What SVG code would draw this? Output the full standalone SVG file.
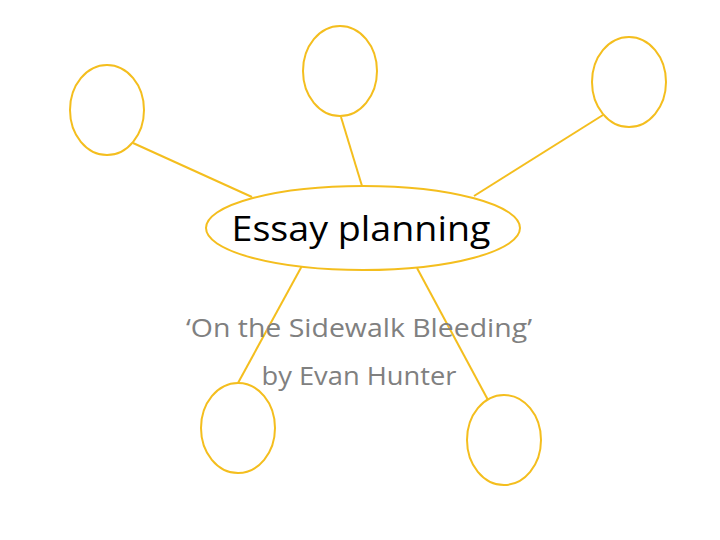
<svg xmlns="http://www.w3.org/2000/svg" width="720" height="540" viewBox="0 0 720 540">
<style>
.n{fill:#fff;stroke:#F4BE1E;stroke-width:2}
.c line{stroke:#F4BE1E;stroke-width:2}
.t{font-family:"Open Sans","Liberation Sans",sans-serif;text-anchor:middle}
</style>
<rect width="720" height="540" fill="#fff"/>
<g id="connectors" class="c">
<line x1="133" y1="143" x2="252" y2="197"/>
<line x1="341" y1="117" x2="362" y2="186"/>
<line x1="603" y1="115" x2="474" y2="196"/>
<line x1="303" y1="264" x2="238" y2="383"/>
<line x1="417" y1="268" x2="488" y2="400"/>
</g>
<g id="center"><ellipse class="n" cx="363" cy="228" rx="157" ry="42"/>
<text class="t" x="361" y="241" font-size="35" fill="#000" textLength="259" lengthAdjust="spacingAndGlyphs">Essay planning</text></g>
<g id="n1"><ellipse class="n" cx="107" cy="110" rx="37" ry="45"/></g>
<g id="n2"><ellipse class="n" cx="340" cy="71" rx="37" ry="45"/></g>
<g id="n3"><ellipse class="n" cx="629" cy="82" rx="37" ry="45"/></g>
<g id="n4"><ellipse class="n" cx="238" cy="428" rx="37" ry="45"/></g>
<g id="n5"><ellipse class="n" cx="504" cy="440" rx="37" ry="45"/></g>
<g id="subtitle" fill="#808080">
<text class="t" x="359" y="337" font-size="25" textLength="346" lengthAdjust="spacingAndGlyphs">‘On the Sidewalk Bleeding’</text>
<text class="t" x="359" y="385" font-size="25" textLength="195" lengthAdjust="spacingAndGlyphs">by Evan Hunter</text>
</g>
</svg>
